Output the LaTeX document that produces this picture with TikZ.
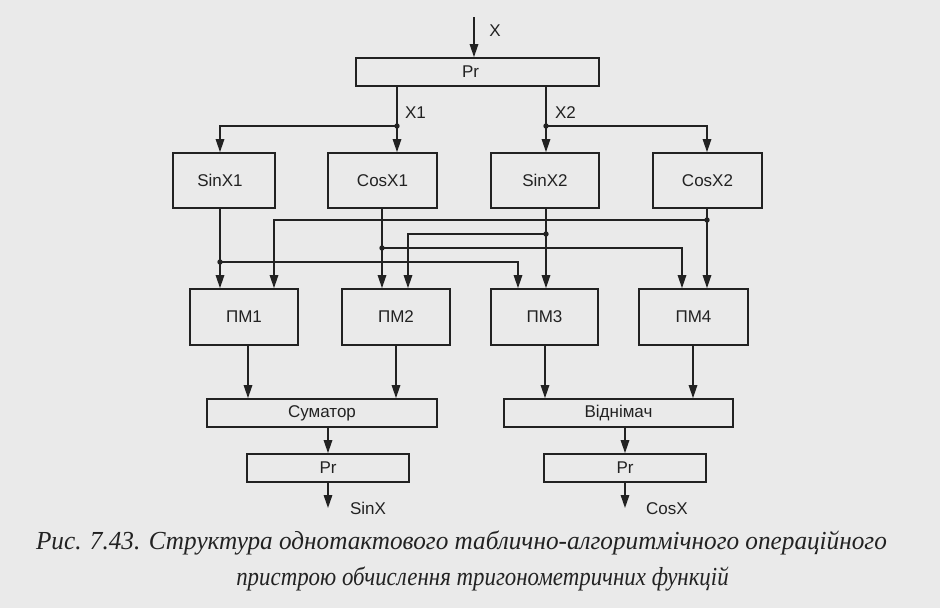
\documentclass[tikz,border=0pt]{standalone}
\usepackage{fontspec}
\setmainfont{Liberation Serif}
\newfontfamily\diagfont{Liberation Sans}
\usetikzlibrary{arrows.meta}
\definecolor{paper}{RGB}{234,234,234}
\definecolor{ink}{RGB}{34,34,34}
\tikzset{
  blk/.style={draw=ink, line width=1.7pt, rectangle, inner sep=0pt, text=ink,
    font=\diagfont\fontsize{17}{20}\selectfont},
  arr/.style={draw=ink, line width=1.5pt, -{Triangle[length=13pt,width=8.5pt]}},
  lbl/.style={text=ink, inner sep=0pt, font=\diagfont\fontsize{17}{20}\selectfont},
  captxt/.style={text=ink, inner sep=0pt, font=\itshape\fontsize{26}{30}\selectfont},
  dot/.style={fill=ink}
}
\begin{document}
\begin{tikzpicture}[x=1pt,y=-1pt]
\fill[paper] (0,0) rectangle (940,608);
\useasboundingbox (0,0) rectangle (940,608);
% top register
\node[blk, minimum width=243pt, minimum height=28pt] (pr0) at (477.5,72) {\hspace*{-14pt}Pr};
% row 2
\node[blk, minimum width=102pt, minimum height=55pt] (sin1) at (224,180.5) {\hspace*{-8pt}SinX1};
\node[blk, minimum width=109pt, minimum height=55pt] (cos1) at (382.5,180.5) {CosX1};
\node[blk, minimum width=108pt, minimum height=55pt] (sin2) at (545,180.5) {SinX2};
\node[blk, minimum width=109pt, minimum height=55pt] (cos2) at (707.5,180.5) {CosX2};
% row 3
\node[blk, minimum width=108pt, minimum height=56pt] (pm1) at (244,317) {ПМ1};
\node[blk, minimum width=108pt, minimum height=56pt] (pm2) at (396,317) {ПМ2};
\node[blk, minimum width=107pt, minimum height=56pt] (pm3) at (544.5,317) {ПМ3};
\node[blk, minimum width=109pt, minimum height=56pt] (pm4) at (693.5,317) {ПМ4};
% row 4
\node[blk, minimum width=230pt, minimum height=28pt] (sum) at (322,413) {Суматор};
\node[blk, minimum width=229pt, minimum height=28pt] (sub) at (618.5,413) {Віднімач};
% row 5
\node[blk, minimum width=162pt, minimum height=28pt] (prl) at (328,468) {Pr};
\node[blk, minimum width=162pt, minimum height=28pt] (prr) at (625,468) {Pr};
% coordinates
\coordinate (xin) at (474,17);
\coordinate (d1) at (397,126);
\coordinate (d2) at (546,126);
\coordinate (s1) at (220,0);
\coordinate (c1o) at (382,0);
\coordinate (c2) at (707,0);
\coordinate (e1) at (220,262);
\coordinate (e2) at (382,248);
\coordinate (e3) at (546,234);
\coordinate (e4) at (707,220);
\coordinate (p1r) at (274,0);
\coordinate (p2r) at (408,0);
\coordinate (p3l) at (518,0);
\coordinate (p4l) at (682,0);
\coordinate (q1) at (248,0);
\coordinate (q2) at (396,0);
\coordinate (q3) at (545,0);
\coordinate (q4) at (693,0);
\coordinate (outs) at (328,508);
\coordinate (outc) at (625,508);
% input
\draw[arr] (xin) -- (xin |- pr0.north);
\node[lbl] (lx) at (495,31) {X};
% X1, X2
\draw[arr] (d1 |- pr0.south) -- (d1 |- cos1.north);
\draw[arr] (d2 |- pr0.south) -- (d2 |- sin2.north);
\draw[arr] (d1) -| (s1 |- sin1.north);
\draw[arr] (d2) -| (c2 |- cos2.north);
\fill[dot] (d1) circle (2.7pt);
\fill[dot] (d2) circle (2.7pt);
\node[lbl] (lx1) at (415.5,113) {X1};
\node[lbl] (lx2) at (565.5,113) {X2};
% row 2 -> row 3
\draw[arr] (s1 |- sin1.south) -- (s1 |- pm1.north);
\draw[arr] (c1o |- cos1.south) -- (c1o |- pm2.north);
\draw[arr] (e3 |- sin2.south) -- (e3 |- pm3.north);
\draw[arr] (c2 |- cos2.south) -- (c2 |- pm4.north);
\draw[arr] (e4) -| (p1r |- pm1.north);
\draw[arr] (e3) -| (p2r |- pm2.north);
\draw[arr] (e2) -| (p4l |- pm4.north);
\draw[arr] (e1) -| (p3l |- pm3.north);
\fill[dot] (e1) circle (2.7pt);
\fill[dot] (e2) circle (2.7pt);
\fill[dot] (e3) circle (2.7pt);
\fill[dot] (e4) circle (2.7pt);
% row 3 -> row 4
\draw[arr] (q1 |- pm1.south) -- (q1 |- sum.north);
\draw[arr] (q2 |- pm2.south) -- (q2 |- sum.north);
\draw[arr] (q3 |- pm3.south) -- (q3 |- sub.north);
\draw[arr] (q4 |- pm4.south) -- (q4 |- sub.north);
% row 4 -> 5 -> out
\draw[arr] (sum.south -| prl.north) -- (prl.north);
\draw[arr] (sub.south -| prr.north) -- (prr.north);
\draw[arr] (prl.south) -- (outs);
\draw[arr] (prr.south) -- (outc);
\node[lbl] (lsin) at (368,508) {SinX};
\node[lbl] (lcos) at (667,509) {CosX};
% caption
\node[captxt] (cap1) at (461.5,543) {\scalebox{0.97}[1]{Рис. 7.43. Структура однотактового таблично-алгоритмічного операційного}};
\node[captxt] (cap2) at (482.5,579) {\scalebox{0.88}[1]{пристрою обчислення тригонометричних функцій}};
\end{tikzpicture}
\end{document}
